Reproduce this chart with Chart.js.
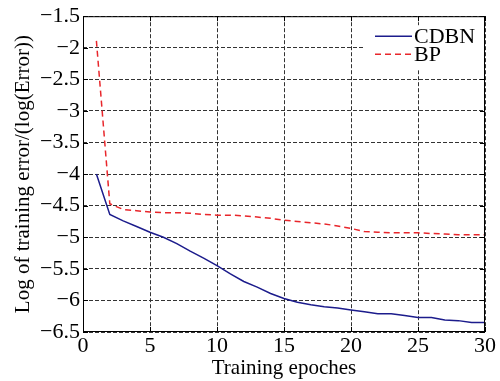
<!DOCTYPE html>
<html lang="en">
<head>
    <meta charset="UTF-8">
    <title>Training error: CDBN vs BP</title>
    <script src="https://cdn.jsdelivr.net/npm/chart.js"></script>
    <style>
        html, body {
            margin: 0;
            padding: 0;
            background: #fff;
        }
        .chart-box {
            width: 500px;
            height: 381px;
        }
    </style>
</head>
<body>

<div class="chart-box">
    <canvas id="errChart" width="500" height="381"></canvas>
</div>

<script>
// data
const epochs = [1, 2, 3, 4, 5, 6, 7, 8, 9, 10, 11, 12, 13, 14, 15,
                16, 17, 18, 19, 20, 21, 22, 23, 24, 25, 26, 27, 28, 29, 30];
const cdbnErr = [-4.00, -4.64, -4.74, -4.83, -4.92, -5.00, -5.10, -5.22, -5.33, -5.45,
                 -5.58, -5.70, -5.79, -5.89, -5.97, -6.03, -6.07, -6.10, -6.12, -6.15,
                 -6.18, -6.21, -6.21, -6.24, -6.27, -6.27, -6.31, -6.32, -6.35, -6.35];
const bpErr = [-1.89, -4.47, -4.56, -4.58, -4.60, -4.61, -4.61, -4.62, -4.64, -4.65,
               -4.65, -4.66, -4.68, -4.70, -4.73, -4.75, -4.77, -4.79, -4.82, -4.86,
               -4.91, -4.92, -4.93, -4.93, -4.93, -4.94, -4.95, -4.96, -4.96, -4.96];
const seriesNames = ['CDBN', 'BP'];
const xTicks = [0, 5, 10, 15, 20, 25, 30];
const yTicks = [-6.5, -6, -5.5, -5, -4.5, -4, -3.5, -3, -2.5, -2, -1.5];

const serif = 'Liberation Serif';
const navy = '#1c1c8c';
const red = '#e8262b';

Chart.defaults.font.family = serif;
Chart.defaults.font.size = 21;
Chart.defaults.color = '#000';

function toPoints(ys) {
    return epochs.map((e, i) => ({ x: e, y: ys[i] }));
}

function minusSign(v) {
    return String(v).replace('-', '\u2212');
}

// box around the plot, inward tick marks and the legend
const framePlugin = {
    id: 'frame',
    afterDatasetsDraw(chart) {
        const ctx = chart.ctx;
        const a = chart.chartArea;
        const xs = chart.scales.x, ys = chart.scales.y;
        ctx.save();
        ctx.strokeStyle = '#000';
        ctx.lineWidth = 1;
        ctx.setLineDash([]);
        ctx.beginPath();
        xTicks.forEach(t => {
            const px = Math.round(xs.getPixelForValue(t)) + 0.5;
            ctx.moveTo(px, a.bottom); ctx.lineTo(px, a.bottom - 5);
            ctx.moveTo(px, a.top); ctx.lineTo(px, a.top + 5);
        });
        yTicks.forEach(t => {
            const py = Math.round(ys.getPixelForValue(t)) + 0.5;
            ctx.moveTo(a.left, py); ctx.lineTo(a.left + 5, py);
            ctx.moveTo(a.right, py); ctx.lineTo(a.right - 5, py);
        });
        ctx.stroke();

        // legend
        const lx = a.right - 120, ly = a.top + 9;
        ctx.fillStyle = '#fff';
        ctx.fillRect(lx, ly, 120, 45);
        ctx.font = '22px "Liberation Serif"';
        ctx.textAlign = 'left';
        ctx.textBaseline = 'middle';
        const colors = [navy, red];
        const dashes = [[], [6, 4]];
        seriesNames.forEach((name, i) => {
            const y = ly + 11 + i * 18;
            ctx.strokeStyle = colors[i];
            ctx.lineWidth = 1.5;
            ctx.setLineDash(dashes[i]);
            ctx.beginPath();
            ctx.moveTo(lx + 10, y);
            ctx.lineTo(lx + 47, y);
            ctx.stroke();
            ctx.fillStyle = '#000';
            ctx.fillText(name, lx + 49, y + 1);
        });

        ctx.setLineDash([]);
        ctx.strokeStyle = '#000';
        ctx.lineWidth = 1;
        ctx.strokeRect(a.left + 0.5, a.top + 0.5, a.right - a.left - 1, a.bottom - a.top - 1);
        ctx.restore();
    }
};

const tickFont = { family: serif, size: 22 };

const ctx = document.getElementById('errChart').getContext('2d');
new Chart(ctx, {
    type: 'line',
    data: {
        datasets: [{
            label: seriesNames[0],
            data: toPoints(cdbnErr),
            borderColor: navy,
            borderWidth: 1.5,
            pointRadius: 0,
            tension: 0,
            fill: false
        }, {
            label: seriesNames[1],
            data: toPoints(bpErr),
            borderColor: red,
            borderWidth: 1.5,
            borderDash: [6, 4],
            pointRadius: 0,
            tension: 0,
            fill: false
        }]
    },
    options: {
        responsive: false,
        animation: false,
        layout: { padding: { top: 15, right: 15, left: 0, bottom: 0 } },
        plugins: {
            legend: { display: false },
            tooltip: { enabled: false }
        },
        scales: {
            x: {
                type: 'linear',
                min: 0,
                max: 30,
                afterBuildTicks: s => { s.ticks = xTicks.map(v => ({ value: v })); },
                afterFit: s => { s.height = 49; },
                ticks: {
                    color: '#000',
                    font: tickFont,
                    padding: 1,
                    maxRotation: 0,
                    callback: v => minusSign(v)
                },
                grid: {
                    color: '#333',
                    drawTicks: false
                },
                border: { display: false, dash: [4, 2] },
                title: {
                    display: true,
                    text: 'Training epoches',
                    color: '#000',
                    font: { family: serif, size: 21 },
                    padding: { top: 0, bottom: 0 }
                }
            },
            y: {
                type: 'linear',
                min: -6.5,
                max: -1.5,
                afterBuildTicks: s => { s.ticks = yTicks.map(v => ({ value: v })); },
                afterFit: s => { s.width = 83; },
                ticks: {
                    color: '#000',
                    font: tickFont,
                    padding: 3,
                    callback: v => minusSign(v)
                },
                grid: {
                    color: '#333',
                    drawTicks: false
                },
                border: { display: false, dash: [4, 2] },
                title: {
                    display: true,
                    text: 'Log of training error/(log(Error))',
                    color: '#000',
                    font: { family: serif, size: 21 },
                    padding: { top: 11, bottom: 0 }
                }
            }
        }
    },
    plugins: [framePlugin]
});
</script>

</body>
</html>
